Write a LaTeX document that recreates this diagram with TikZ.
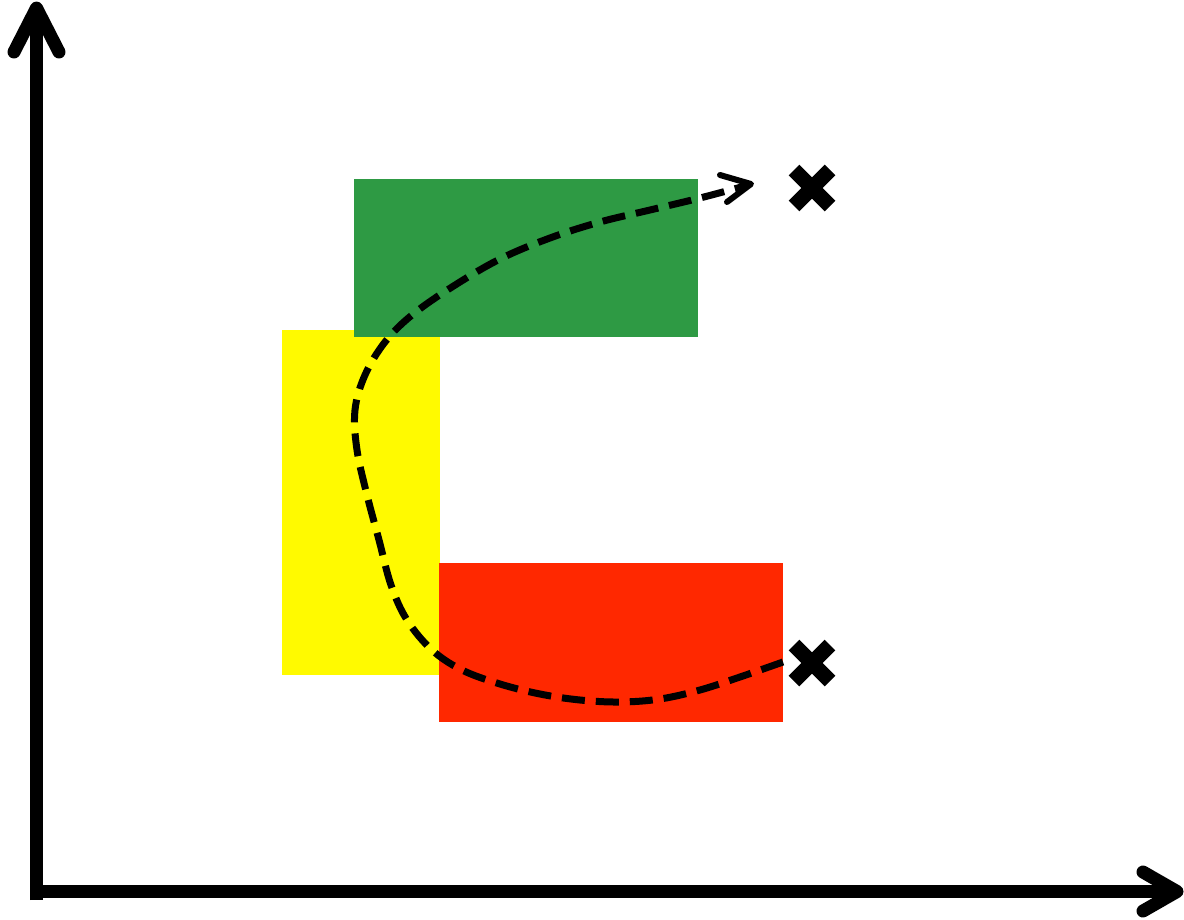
\documentclass[tikz,border=0pt]{standalone}
\usetikzlibrary{arrows.meta}
\definecolor{cgreen}{RGB}{46,154,68}
\definecolor{cyellow}{RGB}{255,250,0}
\definecolor{cred}{RGB}{255,40,0}
\tikzset{
  axis/.style={line width=13pt},
  barb/.style={line width=13pt,line cap=round,line join=round},
  route/.style={line width=7pt,dash pattern=on 23pt off 11pt},
  routehead/.style={line width=6pt,line cap=round,line join=round},
  cross/.style={line width=15pt},
}
\begin{document}
\begin{tikzpicture}[x=1pt,y=-1pt]
\useasboundingbox (0,0) rectangle (1184,919);
% blocks
\fill[cyellow] (282,330) rectangle (440,675);
\fill[cgreen] (354,179) rectangle (698,337);
\fill[cred] (439,563) rectangle (783,722);
% axes
\coordinate (O) at (36.5,891.5);
\coordinate (ytip) at (36.5,8);
\coordinate (xtip) at (1177,891.5);
\draw[axis] (36.5,900) -- (ytip);
\draw[axis] (O) -- (xtip);
\draw[barb] (14,52) -- (ytip) -- (59,52);
\draw[barb] (1143,872) -- (xtip) -- (1143,911);
% route
\coordinate (start) at (783,662);
\coordinate (endp) at (751,184);
\draw[route] plot[smooth,tension=0.6] coordinates {
  (783,662) (740,677) (700,690) (660,699) (620,702) (580,700) (540,694)
  (500,684) (462,670) (432,650) (407,620) (391,585) (379,540) (367,495)
  (357,450) (355,410) (365,375) (385,342) (412,315) (452,287) (500,259)
  (550,238) (600,222) (650,210) (700,198) (745,186)};
\draw[routehead] (720,175) -- (endp) -- (727,202);
% crosses
\foreach \n/\cy in {a/188,b/663}{
  \coordinate (x\n) at (812,\cy);
  \draw[cross] ([shift={(-18,-18)}]x\n) -- ([shift={(18,18)}]x\n);
  \draw[cross] ([shift={(-18,18)}]x\n) -- ([shift={(18,-18)}]x\n);
}
\end{tikzpicture}
\end{document}
